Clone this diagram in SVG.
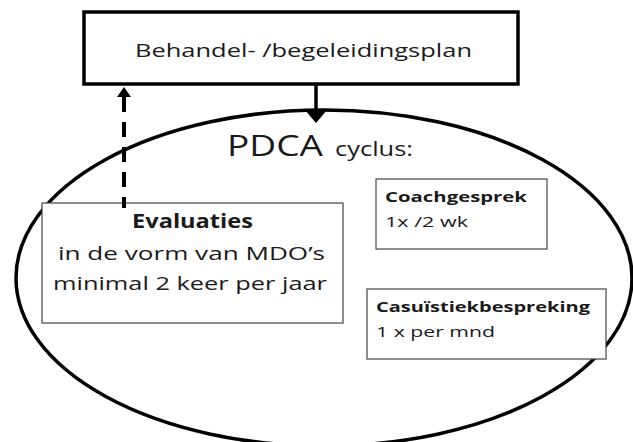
<svg xmlns="http://www.w3.org/2000/svg" width="633" height="442" viewBox="0 0 633 442">
<style>
text{font-family:"Open Sans","Noto Sans","Liberation Sans",sans-serif;fill:#1a1a1a}
.b{font-weight:bold}
.thin{fill:#fff;stroke:#444;stroke-width:1.2}
.thick{fill:#fff;stroke:#000;stroke-width:3.5}
.line{stroke:#000;fill:none}
</style>
<rect width="633" height="442" fill="#fff"/>
<g id="cycle">
<ellipse cx="324" cy="278" rx="308" ry="168" fill="none" stroke="#000" stroke-width="3.5"/>
<text x="227" y="156" font-size="29" textLength="96" lengthAdjust="spacingAndGlyphs">PDCA</text>
<text x="335" y="156" font-size="20" textLength="78" lengthAdjust="spacingAndGlyphs">cyclus:</text>
</g>
<g id="plan">
<rect class="thick" x="84" y="12" width="434" height="72"/>
<text x="135" y="57" font-size="19" textLength="337" lengthAdjust="spacingAndGlyphs">Behandel- /begeleidingsplan</text>
</g>
<g id="evaluaties">
<rect class="thin" x="42" y="203" width="301" height="120"/>
<text class="b" x="132" y="228" font-size="19" textLength="121" lengthAdjust="spacingAndGlyphs">Evaluaties</text>
<text x="58" y="260" font-size="19" textLength="267" lengthAdjust="spacingAndGlyphs">in de vorm van MDO’s</text>
<text x="53" y="290" font-size="19" textLength="274" lengthAdjust="spacingAndGlyphs">minimal 2 keer per jaar</text>
</g>
<g id="coachgesprek">
<rect class="thin" x="376" y="179" width="171" height="70"/>
<text class="b" x="385" y="202" font-size="15" textLength="142" lengthAdjust="spacingAndGlyphs">Coachgesprek</text>
<text x="385" y="227" font-size="15" textLength="83" lengthAdjust="spacingAndGlyphs">1x /2 wk</text>
</g>
<g id="casuistiek">
<rect class="thin" x="367" y="289" width="239" height="70"/>
<text class="b" x="376" y="312" font-size="15" textLength="214" lengthAdjust="spacingAndGlyphs">Casuïstiekbespreking</text>
<text x="376" y="337" font-size="15" textLength="119" lengthAdjust="spacingAndGlyphs">1 x per mnd</text>
</g>
<g id="connectors">
<line class="line" x1="316" y1="84" x2="316" y2="112" stroke-width="3.5"/>
<polygon points="305,110 327,110 316,123" fill="#000"/>
<line class="line" x1="124" y1="208" x2="124" y2="96" stroke-width="4" stroke-dasharray="11 10 15 10 15 10 15 10 15 10"/>
<polygon points="117,97 131,97 124,87" fill="#000"/>
</g>
</svg>
